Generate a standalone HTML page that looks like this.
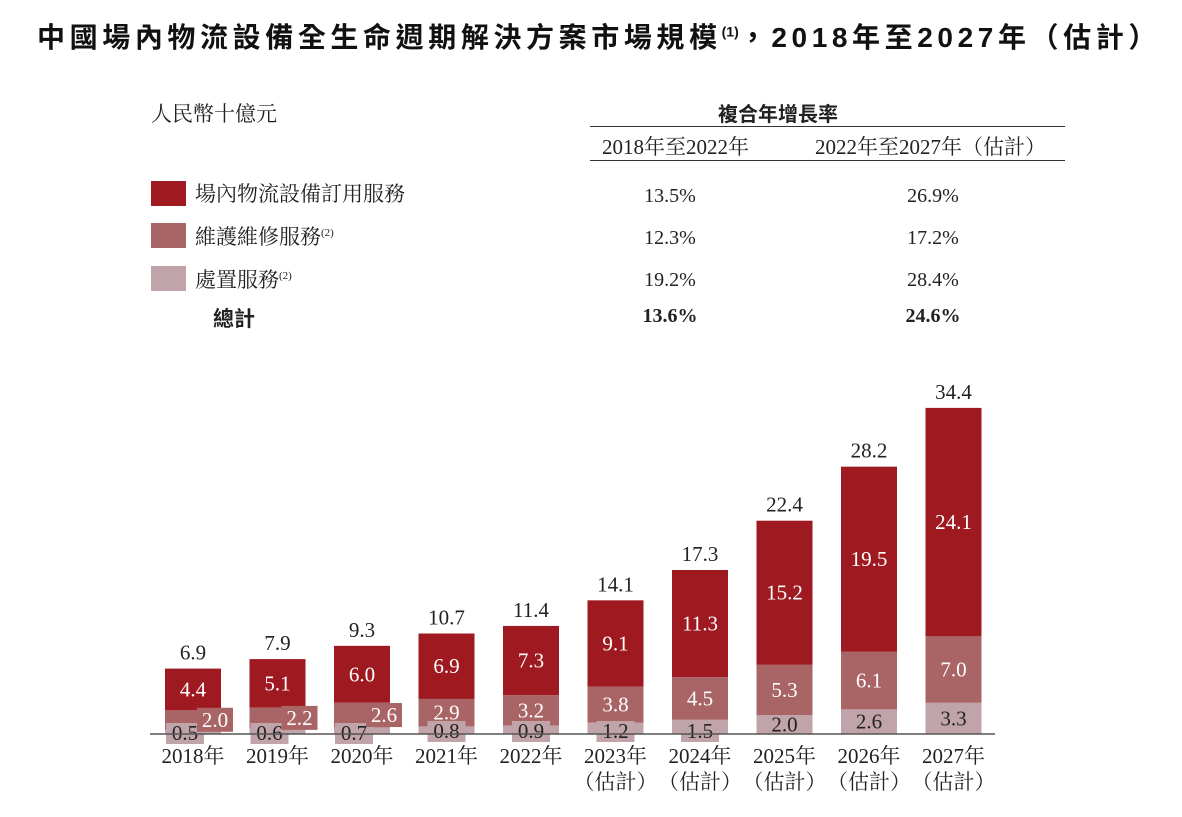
<!DOCTYPE html>
<html><head><meta charset="utf-8">
<style>
body{margin:0;background:#fff;width:1182px;height:817px;overflow:hidden;font-family:"Liberation Serif","Noto Serif CJK SC",serif;color:#222}
.abs{position:absolute;white-space:nowrap}
.t{font-family:"Liberation Sans","Noto Sans CJK TC",sans-serif;font-weight:bold;font-size:28px;left:8px;width:1182px;text-align:center;top:16px;letter-spacing:4.6px;color:#111}
.sw{position:absolute;width:35px;height:25px}
.lg{font-size:21px}
.num{font-size:20px;text-align:center;width:120px}
</style></head><body>
<div class="abs t">中國場內物流設備全生命週期解決方案市場規模<sup style="font-size:14px;letter-spacing:0">(1)</sup>，2018年至2027年（估計）</div>
<div class="abs lg" style="left:151px;top:98px">人民幣十億元</div>
<div class="abs" style="left:718px;top:98px;font-size:20px;font-weight:bold;font-family:'Liberation Sans','Noto Sans CJK TC',sans-serif">複合年增長率</div>
<div class="abs" style="left:590px;top:126px;width:475px;border-top:1.5px solid #333"></div>
<div class="abs" style="left:590px;top:160px;width:475px;border-top:1.5px solid #333"></div>
<div class="abs lg" style="left:602px;top:131px">2018年至2022年</div>
<div class="abs lg" style="left:815px;top:131px">2022年至2027年（估計）</div>
<div class="sw" style="left:151px;top:181px;background:#9e1a20"></div>
<div class="sw" style="left:151px;top:223px;background:#a96466"></div>
<div class="sw" style="left:151px;top:266px;background:#c0a4aa"></div>
<div class="abs lg" style="left:195px;top:178px">場內物流設備訂用服務</div>
<div class="abs lg" style="left:195px;top:221px">維護維修服務<sup style="font-size:11px">(2)</sup></div>
<div class="abs lg" style="left:195px;top:264px">處置服務<sup style="font-size:11px">(2)</sup></div>
<div class="abs lg" style="left:213px;top:303px;font-weight:bold;font-family:'Liberation Sans','Noto Sans CJK TC',sans-serif">總計</div>
<div class="abs num" style="left:610px;top:185px">13.5%</div>
<div class="abs num" style="left:873px;top:185px">26.9%</div>
<div class="abs num" style="left:610px;top:227px">12.3%</div>
<div class="abs num" style="left:873px;top:227px">17.2%</div>
<div class="abs num" style="left:610px;top:269px">19.2%</div>
<div class="abs num" style="left:873px;top:269px">28.4%</div>
<div class="abs num" style="left:610px;top:305px;font-weight:bold">13.6%</div>
<div class="abs num" style="left:873px;top:305px;font-weight:bold">24.6%</div>
<svg id="chart" class="abs" style="left:0;top:0" width="1182" height="817"></svg>
<script>
const years=["2018年","2019年","2020年","2021年","2022年","2023年","2024年","2025年","2026年","2027年"];
const estimated=[false,false,false,false,false,true,true,true,true,true];
const rental=[4.4,5.1,6.0,6.9,7.3,9.1,11.3,15.2,19.5,24.1];
const maintenance=[2.0,2.2,2.6,2.9,3.2,3.8,4.5,5.3,6.1,7.0];
const disposal=[0.5,0.6,0.7,0.8,0.9,1.2,1.5,2.0,2.6,3.3];
const totals=["6.9","7.9","9.3","10.7","11.4","14.1","17.3","22.4","28.2","34.4"];
const NS="http://www.w3.org/2000/svg";
const svg=document.getElementById('chart');
const base=734, k=9.48, x0=193, step=84.5, bw=56;
const xc=i=>x0+i*step;
const y=v=>base-v*k;
function mk(t,a){const e=document.createElementNS(NS,t);for(const n in a)e.setAttribute(n,a[n]);svg.appendChild(e);return e;}
function txt(x,yy,s,fill,size){const e=mk('text',{x:x,y:yy,'text-anchor':'middle','font-size':size||21,fill:fill,'font-family':'Liberation Serif, Noto Serif CJK TC, serif'});e.textContent=s;return e;}
const colors=["#c0a4aa","#a96466","#9e1a20"];
years.forEach((yr,i)=>{
  const segs=[disposal[i],maintenance[i],rental[i]];
  let acc=0;
  segs.forEach((v,j)=>{
    const r=mk('rect',{x:xc(i)-bw/2,y:y(acc+v),width:bw,height:v*k,fill:colors[j]});
    
    
    acc+=v;
  });
  txt(xc(i),y(disposal[i]+maintenance[i]+rental[i]/2)+7,rental[i].toFixed(1),"#fff");
  if(disposal[i]<1.6){
    const bx=i<3?xc(i)-8:xc(i);
    const dY=i<3?base+6:base+4;
    mk('rect',{x:bx-19,y:dY-17,width:38,height:21,fill:"#c0a4aa"});
    txt(bx,dY,disposal[i].toFixed(1),"#222");
  } else txt(xc(i),y(disposal[i]/2)+7,disposal[i].toFixed(1),"#222");
  const mY=y(disposal[i]+maintenance[i]/2)+7;
  if(maintenance[i]<2.8){
    const bx=xc(i)+22;
    mk('rect',{x:bx-18,y:mY-19,width:36,height:24,fill:"#a96466"});
    txt(bx,mY,maintenance[i].toFixed(1),"#fff");
  } else txt(xc(i),mY,maintenance[i].toFixed(1),"#fff");
  const tl=txt(xc(i),y(disposal[i]+maintenance[i]+rental[i])-9,totals[i],"#222");
  
  
  const xl=txt(xc(i),763,yr,"#222",21);
  
  
  if(estimated[i]){txt(xc(i),789,"（估計）","#222",21);}
});
const ax=mk('line',{x1:150,x2:995,y1:base,y2:base,stroke:"#555","stroke-width":1.5});


</script>
</body></html>
